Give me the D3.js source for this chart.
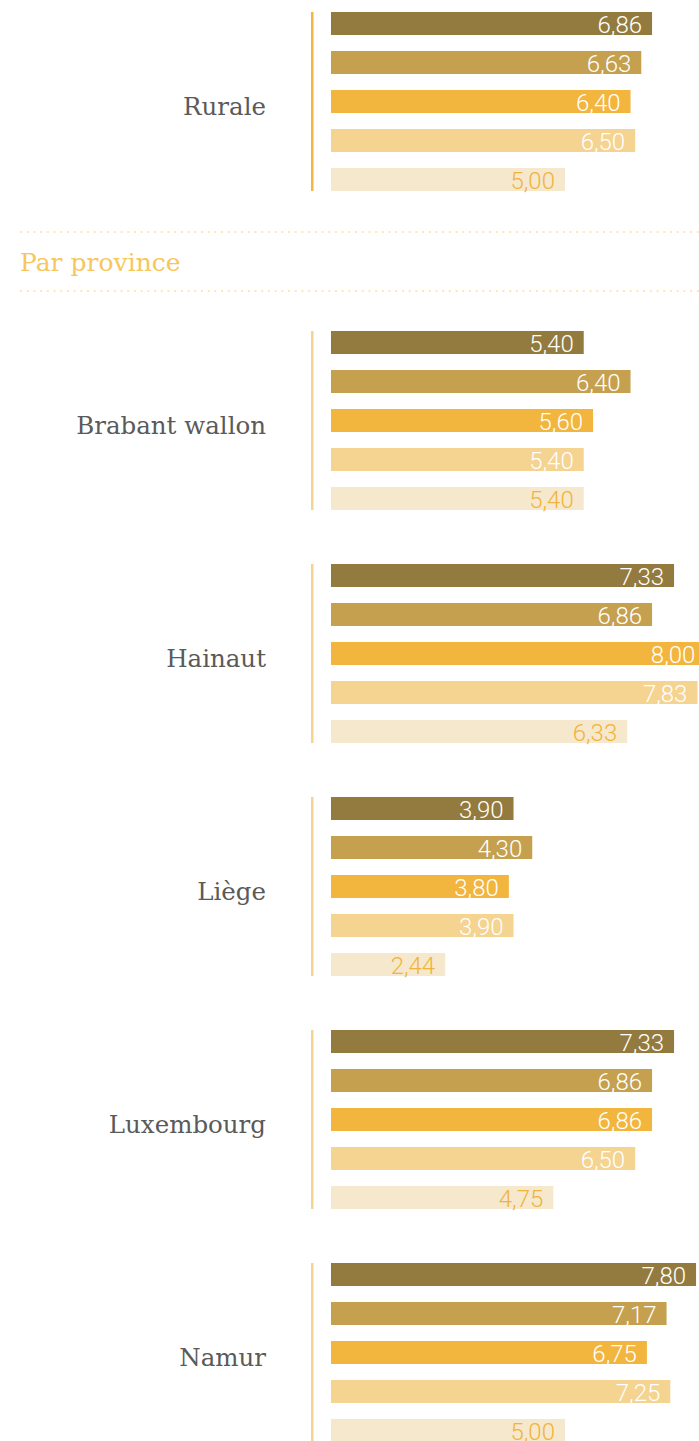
<!DOCTYPE html>
<html>
<head>
<meta charset="utf-8">
<script src="https://cdn.jsdelivr.net/npm/d3@7"></script>
<style>
  html, body { margin: 0; padding: 0; background: #ffffff; }
  svg { display: block; }
</style>
</head>
<body>
<div id="chart"></div>
<script>
// Categories: one urban/rural group, then the provinces
const ruralGroup = ["Rurale"];
const provinces = ["Brabant wallon", "Hainaut", "Liège", "Luxembourg", "Namur"];
const categories = ruralGroup.concat(provinces);

// Five series, one value per category (same order as `categories`)
const seriesNames = ["s1", "s2", "s3", "s4", "s5"];
const series1 = [6.86, 5.40, 7.33, 3.90, 7.33, 7.80];
const series2 = [6.63, 6.40, 6.86, 4.30, 6.86, 7.17];
const series3 = [6.40, 5.60, 8.00, 3.80, 6.86, 6.75];
const series4 = [6.50, 5.40, 7.83, 3.90, 6.50, 7.25];
const series5 = [5.00, 5.40, 6.33, 2.44, 4.75, 5.00];
const seriesValues = [series1, series2, series3, series4, series5];

const sectionTitle = "Par province";

const barColors = ["#937a3e", "#c4a04f", "#f2b53e", "#f5d390", "#f6e8cd"];
const textColors = ["#ffffff", "#ffffff", "#ffffff", "#ffffff", "#f0b43c"];

const W = 699, H = 1441;
const svg = d3.select("#chart").append("svg")
  .attr("width", W).attr("height", H);

// Horizontal value scale (bars start at 331)
const x = d3.scaleLinear().domain([0, 1]).range([331, 331 + 46.8]);

// Bars inside one group
const band = d3.scaleBand().domain(seriesNames).range([0, 179]).paddingInner(16 / 39).paddingOuter(0);

// Vertical position of each group
const groupTop = d3.scaleOrdinal()
  .domain(categories)
  .range([12].concat(provinces.map((p, i) => 331 + i * 233)));

const fmt = v => d3.format(".2f")(v).replace(".", ",");
const serif = "'DejaVu Serif', serif";

function drawGroup(cat, ci, lineColor) {
  const g = svg.append("g").attr("transform", `translate(0,${groupTop(cat)})`);
  g.append("rect")
    .attr("x", 311).attr("y", 0).attr("width", 2.5).attr("height", 179)
    .attr("fill", lineColor);
  g.append("text")
    .attr("x", 266).attr("y", 94)
    .attr("dy", "0.35em")
    .attr("text-anchor", "end")
    .attr("font-family", serif)
    .attr("font-size", 24.5)
    .attr("fill", "#5a5a5a")
    .text(cat);
  seriesNames.forEach((s, si) => {
    const v = seriesValues[si][ci];
    g.append("rect")
      .attr("x", x(0)).attr("y", band(s))
      .attr("width", x(v) - x(0)).attr("height", band.bandwidth())
      .attr("fill", barColors[si]);
    g.append("text")
      .attr("x", x(v) - 10).attr("y", band(s) + band.bandwidth() / 2 + 1)
      .attr("dy", "0.36em")
      .attr("text-anchor", "end")
      .attr("font-family", "Roboto, sans-serif")
      .attr("font-weight", 300)
      .attr("font-size", 24)
      .attr("fill", textColors[si])
      .text(fmt(v));
  });
}

drawGroup("Rurale", 0, "#f1b741");

// Section header between dotted rules
[232, 291].forEach(y => {
  svg.append("line")
    .attr("x1", 21).attr("x2", W).attr("y1", y).attr("y2", y)
    .attr("stroke", "#fbe5b0").attr("stroke-width", 2.2)
    .attr("stroke-dasharray", "0.1,6.6").attr("stroke-linecap", "round");
});
svg.append("text")
  .attr("x", 20).attr("y", 271)
  .attr("font-family", serif)
  .attr("font-size", 25)
  .attr("fill", "#f8c65a")
  .text(sectionTitle);

provinces.forEach((p, i) => drawGroup(p, i + 1, "#f5d391"));
</script>
</body>
</html>
